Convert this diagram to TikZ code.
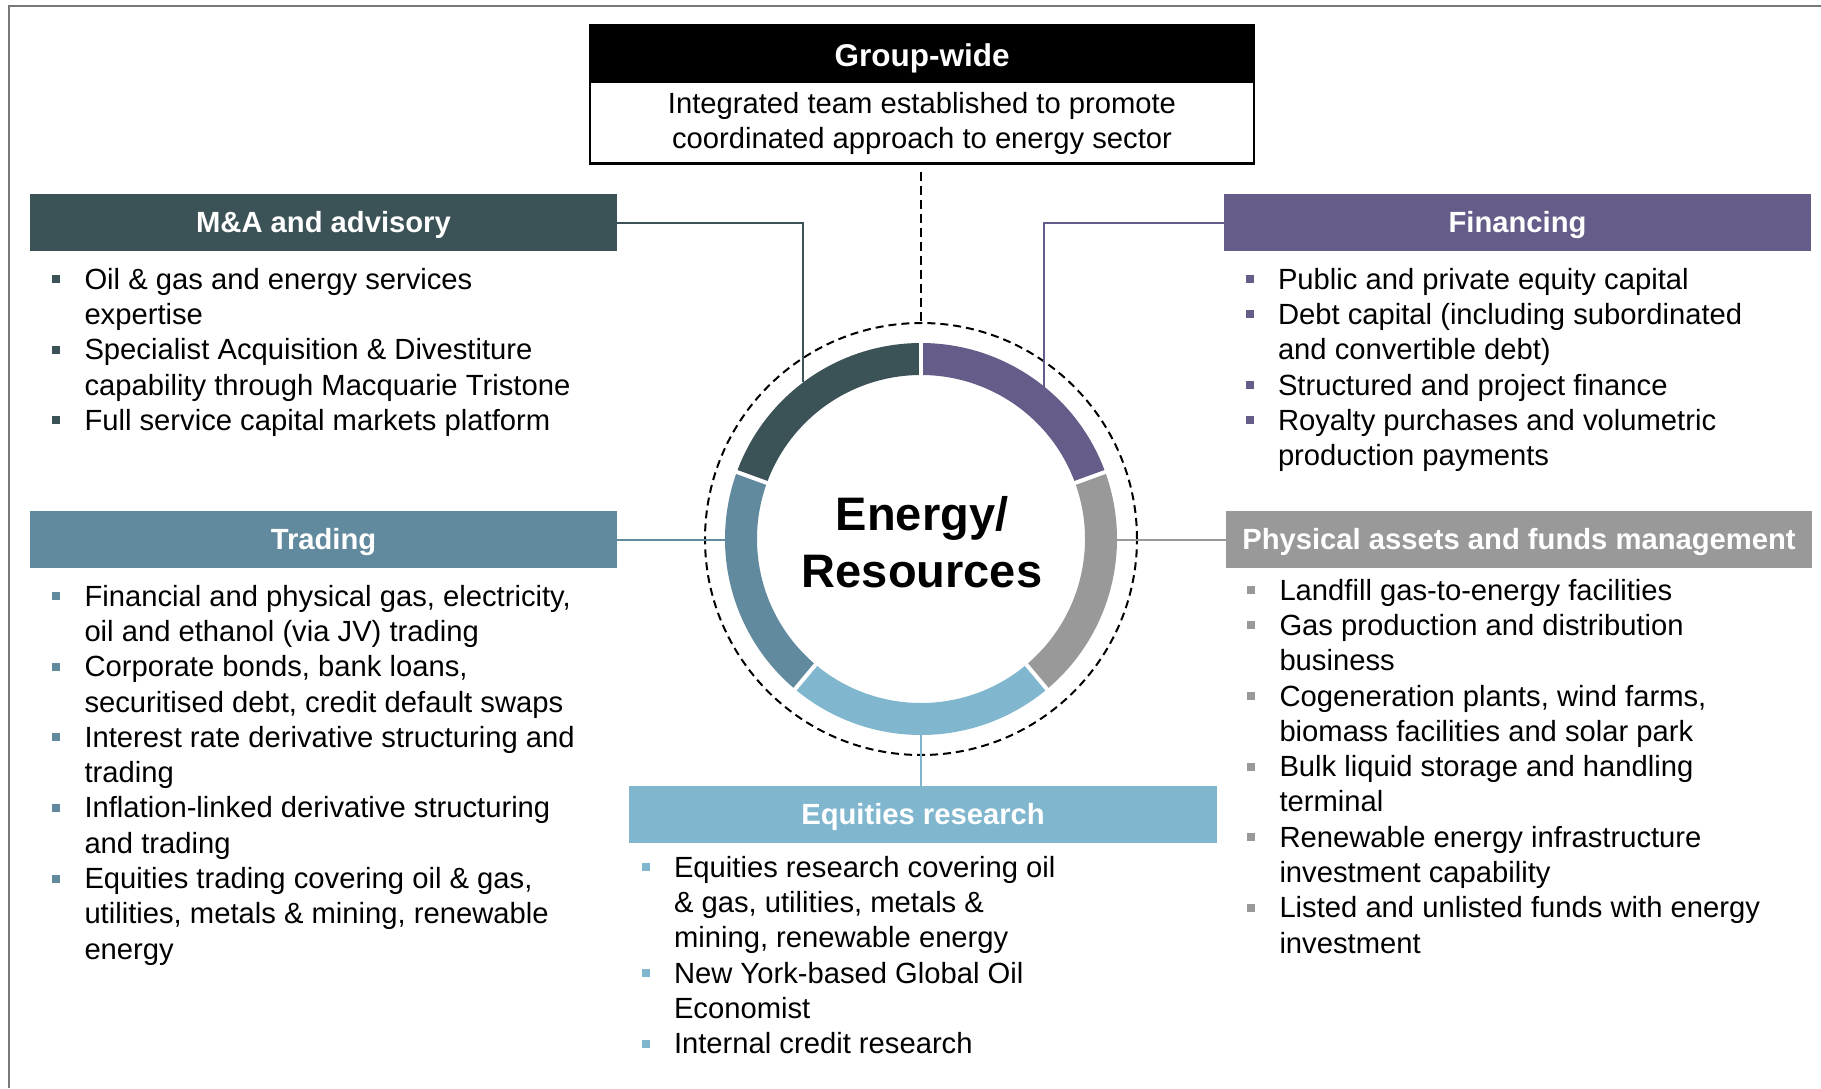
\documentclass[tikz,border=0pt]{standalone}
\usepackage{fontspec}
\setmainfont{Liberation Sans}
\usetikzlibrary{positioning,calc}

\definecolor{mnacol}{RGB}{59,82,87}
\definecolor{fincol}{RGB}{102,92,138}
\definecolor{trdcol}{RGB}{98,138,158}
\definecolor{eqrcol}{RGB}{128,183,207}
\definecolor{phycol}{RGB}{153,153,153}
\definecolor{framecol}{RGB}{120,120,120}

% square bullet and hanging indent for the item lists
\newcommand{\bitem}[1]{\strut\makebox[32.5pt][l]{\textcolor{#1}{\rule[6pt]{8pt}{8pt}}}}
\newcommand{\bcont}{\hspace*{32.5pt}}

\begin{document}
\begin{tikzpicture}[
    x=1pt, y=1pt,
    head/.style={rectangle, minimum width=587pt, minimum height=57pt, inner sep=0pt, text height=22pt, text depth=2.4pt, text=white, font=\fontsize{29.2}{35}\selectfont\bfseries},
    items/.style={align=left, inner sep=0pt, font=\fontsize{29.2}{35.3}\selectfont},
    link/.style={line width=2pt},
    dashline/.style={line width=2pt, dash pattern=on 8pt off 5pt}
]
\useasboundingbox (0,0) rectangle (1821,-1088);

% Frame
\draw[framecol, line width=1.5pt] (9,-1088) |- (1821,-6);

% Group-wide box
\node[head, fill=black, minimum width=664pt, minimum height=58pt, text height=25pt, text depth=1pt, font=\fontsize{31.5}{35}\selectfont\bfseries] (grp) at (922,-54) {Group-wide};
\node[items, align=center, minimum width=664pt, minimum height=80pt, below=0pt of grp] (grpbody) {Integrated team established to promote\\coordinated approach to energy sector};
\draw[line width=2.5pt] (grp.north west) rectangle (grpbody.south east);

% Ring
\coordinate (c) at (921,-539);
\begin{scope}[shift={(c)}]
  \foreach \a/\b/\col in {90/160/mnacol, 160/230/trdcol, 230/310/eqrcol, 310/380/phycol, 20/90/fincol}
    \fill[\col] (\a:196) arc[start angle=\a, end angle=\b, radius=196] -- (\b:164) arc[start angle=\b, end angle=\a, radius=164] -- cycle;
  \foreach \a in {20,90,160,230,310}
    \draw[white, line width=4pt] (\a:160) -- (\a:200);
\end{scope}
\node[circle, minimum size=392pt, inner sep=0pt] (ring) at (c) {};
\node[circle, draw, dashline, minimum size=432pt, inner sep=0pt] (halo) at (c) {};
\node[align=center, font=\fontsize{47}{56.7}\selectfont\bfseries] (core) at (922,-542) {Energy/\\Resources};

% Headers
\node[head, fill=mnacol] (mna) at (323.5,-222.5) {M\&A and advisory};
\node[head, fill=fincol] (fin) at (1517.5,-222.5) {Financing};
\node[head, fill=trdcol] (trd) at (323.5,-539.5) {Trading};
\node[head, fill=phycol, minimum width=586pt] (phy) at (1519,-539.5) {Physical assets and funds management};
\node[head, fill=eqrcol, minimum width=588pt] (eqr) at (923,-814.5) {Equities research};

% Connectors
\draw[link, mnacol] (mna.east) -| (ring.127.7);
\draw[link, fincol] (fin.west) -| (ring.51.5);
\draw[link, trdcol] (trd.east) -- (trd.east -| ring.west);
\draw[link, phycol] (phy.west) -- (phy.west -| ring.east);
\draw[link, eqrcol] (eqr.north -| ring.south) -- (ring.south);
\draw[line width=2pt, dash pattern=on 9pt off 5pt, shorten <=8pt] (grpbody.south -| halo.north) -- (halo.north);

% Item lists
\node[items, below right=13pt and 22pt of mna.south west] (mnalist) {%
\bitem{mnacol}Oil \& gas and energy services\\
\bcont expertise\\
\bitem{mnacol}Specialist Acquisition \& Divestiture\\
\bcont capability through Macquarie Tristone\\
\bitem{mnacol}Full service capital markets platform};

\node[items, below right=13pt and 21.5pt of fin.south west] (finlist) {%
\bitem{fincol}Public and private equity capital\\
\bitem{fincol}Debt capital (including subordinated\\
\bcont and convertible debt)\\
\bitem{fincol}Structured and project finance\\
\bitem{fincol}Royalty purchases and volumetric\\
\bcont production payments};

\node[items, below right=13pt and 22pt of trd.south west] (trdlist) {%
\bitem{trdcol}Financial and physical gas, electricity,\\
\bcont oil and ethanol (via JV) trading\\
\bitem{trdcol}Corporate bonds, bank loans,\\
\bcont securitised debt, credit default swaps\\
\bitem{trdcol}Interest rate derivative structuring and\\
\bcont trading\\
\bitem{trdcol}Inflation-linked derivative structuring\\
\bcont and trading\\
\bitem{trdcol}Equities trading covering oil \& gas,\\
\bcont utilities, metals \& mining, renewable\\
\bcont energy};

\node[items, below right=7pt and 21pt of phy.south west] (phylist) {%
\bitem{phycol}Landfill gas-to-energy facilities\\
\bitem{phycol}Gas production and distribution\\
\bcont business\\
\bitem{phycol}Cogeneration plants, wind farms,\\
\bcont biomass facilities and solar park\\
\bitem{phycol}Bulk liquid storage and handling\\
\bcont terminal\\
\bitem{phycol}Renewable energy infrastructure\\
\bcont investment capability\\
\bitem{phycol}Listed and unlisted funds with energy\\
\bcont investment};

\node[items, below right=9pt and 12.5pt of eqr.south west] (eqrlist) {%
\bitem{eqrcol}Equities research covering oil\\
\bcont \& gas, utilities, metals \&\\
\bcont mining, renewable energy\\
\bitem{eqrcol}New York-based Global Oil\\
\bcont Economist\\
\bitem{eqrcol}Internal credit research};

\end{tikzpicture}
\end{document}
